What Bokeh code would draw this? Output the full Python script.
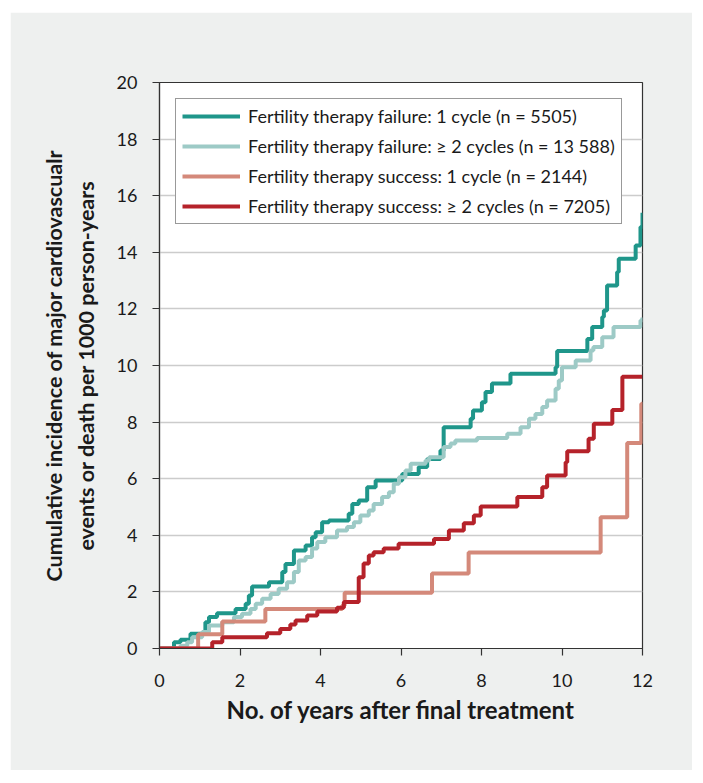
from bokeh.plotting import figure
from bokeh.models import Range1d, Legend, LegendItem, FixedTicker
from bokeh.embed import file_html
from bokeh.resources import INLINE

# ---- data ----
fail1_x = [0, 0.36, 0.52, 0.77, 1.14, 1.23, 1.43, 1.89, 2.14, 2.22, 2.30, 2.72, 3.05, 3.13, 3.34,
           3.63, 3.79, 3.88, 4.04, 4.21, 4.70, 4.79, 4.95, 5.16, 5.37, 6.03, 6.44, 6.65, 6.98, 7.06,
           7.73, 7.79, 8.01, 8.10, 8.26, 8.72, 9.84, 9.88, 10.63, 10.75, 11.00, 11.04, 11.12, 11.37,
           11.41, 11.83, 11.95, 12.0]
fail1_y = [0, 0.22, 0.31, 0.52, 0.93, 1.11, 1.25, 1.40, 1.58, 1.87, 2.19, 2.34, 2.70, 2.99, 3.46,
           3.64, 3.93, 4.11, 4.46, 4.52, 4.76, 5.11, 5.23, 5.70, 5.94, 6.17, 6.41, 6.70, 7.00, 7.82,
           8.12, 8.41, 8.70, 9.06, 9.36, 9.71, 9.94, 10.51, 10.94, 11.36, 11.71, 11.94, 12.83, 13.30,
           13.77, 14.24, 14.89, 15.4]

fail2_x = [0, 0.52, 0.69, 0.81, 1.06, 1.23, 1.56, 1.85, 2.05, 2.26, 2.39, 2.55, 2.76, 2.96, 3.17,
           3.34, 3.46, 3.63, 3.79, 3.92, 4.12, 4.41, 4.66, 4.83, 4.99, 5.20, 5.32, 5.53, 5.70, 5.82,
           5.95, 6.11, 6.24, 6.61, 6.70, 7.06, 7.23, 7.35, 7.89, 8.64, 8.97, 9.18, 9.34, 9.51, 9.63,
           9.84, 9.92, 10.00, 10.34, 10.71, 10.78, 11.00, 11.28, 11.95, 12.0]
fail2_y = [0, 0.10, 0.22, 0.40, 0.58, 0.81, 0.93, 1.11, 1.23, 1.40, 1.58, 1.76, 1.93, 2.11, 2.34,
           2.70, 3.11, 3.23, 3.53, 3.76, 3.93, 4.17, 4.29, 4.46, 4.70, 4.88, 5.11, 5.35, 5.52, 5.82,
           6.05, 6.29, 6.53, 6.64, 6.76, 7.12, 7.24, 7.35, 7.44, 7.59, 7.82, 8.12, 8.29, 8.53, 8.76,
           9.18, 9.47, 9.94, 10.18, 10.53, 10.65, 11.0, 11.36, 11.59, 11.7]

succ1_x = [0, 0.96, 1.56, 2.63, 4.54, 4.60, 6.77, 7.68, 10.96, 11.62, 11.97, 12.0]
succ1_y = [0, 0.50, 0.95, 1.40, 1.52, 1.97, 2.65, 3.39, 4.64, 7.26, 8.65, 8.7]

succ2_x = [0, 1.31, 1.56, 2.67, 3.00, 3.25, 3.38, 3.67, 3.92, 4.41, 4.58, 4.95, 5.07, 5.20, 5.32,
           5.57, 5.94, 6.82, 7.19, 7.56, 7.81, 7.98, 8.89, 9.51, 9.63, 10.09, 10.13, 10.66, 10.79,
           11.25, 11.50, 12.0]
succ2_y = [0, 0.22, 0.40, 0.54, 0.69, 0.85, 0.99, 1.17, 1.31, 1.44, 1.64, 2.52, 3.00, 3.29, 3.40,
           3.53, 3.70, 3.87, 4.17, 4.43, 4.70, 5.02, 5.35, 5.70, 6.11, 6.58, 6.97, 7.41, 7.94,
           8.43, 9.60, 9.6]

series_labels = [
    "Fertility therapy failure: 1 cycle (n = 5505)",
    "Fertility therapy failure: \u2265 2 cycles (n = 13 588)",
    "Fertility therapy success: 1 cycle (n = 2144)",
    "Fertility therapy success: \u2265 2 cycles (n = 7205)",
]
series_colors = ["#1f968a", "#9dcac6", "#d4897a", "#b5222a"]

x_ticks = [0, 2, 4, 6, 8, 10, 12]
y_ticks = [0, 2, 4, 6, 8, 10, 12, 14, 16, 18, 20]

FONT = "Lato"
BG = "#eef0ef"

p = figure(width=682, height=758, output_backend="svg", toolbar_location=None,
           x_range=Range1d(0, 12), y_range=Range1d(0, 20),
           min_border_left=149, min_border_right=50, min_border_top=70, min_border_bottom=122)
p.margin = (12, 0, 0, 10)
p.border_fill_color = BG
p.background_fill_color = "white"
p.outline_line_color = "#333333"
p.outline_line_width = 1.2

p.xgrid.visible = False
p.ygrid.grid_line_color = "#cccccc"
p.ygrid.grid_line_width = 1.5

for ax in (p.xaxis[0], p.yaxis[0]):
    ax.axis_line_color = "#333333"
    ax.axis_line_width = 1.2
    ax.major_tick_line_color = "#333333"
    ax.major_tick_line_width = 1.2
    ax.major_tick_in = 0
    ax.major_tick_out = 7
    ax.minor_tick_line_color = None
    ax.major_label_text_font = FONT
    ax.major_label_text_font_size = "18px"
    ax.major_label_text_color = "#1a1a1a"
    ax.axis_label_text_font = FONT
    ax.axis_label_text_font_style = "bold"
    ax.axis_label_text_color = "#1a1a1a"

p.xaxis[0].axis_label_text_font_size = "24px"
p.yaxis[0].axis_label_text_font_size = "21.5px"
p.xaxis[0].ticker = FixedTicker(ticks=x_ticks)
p.yaxis[0].ticker = FixedTicker(ticks=y_ticks)
p.ygrid.ticker = FixedTicker(ticks=y_ticks)
p.xaxis[0].major_label_standoff = 18
p.yaxis[0].major_label_standoff = 15
p.xaxis[0].axis_label = "No. of years after final treatment"
p.xaxis[0].axis_label_standoff = 5
p.yaxis[0].axis_label = "Cumulative incidence of major cardiovascualr\nevents or death per 1000 person-years"
p.yaxis[0].axis_label_standoff = 15

xs = [fail1_x, fail2_x, succ1_x, succ2_x]
ys = [fail1_y, fail2_y, succ1_y, succ2_y]
renderers = []
for x, y, c in zip(xs, ys, series_colors):
    r = p.step(x, y, mode="after", line_color=c, line_width=4)
    renderers.append(r)

legend = Legend(items=[LegendItem(label=l, renderers=[r]) for l, r in zip(series_labels, renderers)],
                location="top_left")
legend.margin = 16
legend.padding = 6
legend.spacing = 8
legend.label_text_font = FONT
legend.label_text_font_size = "18px"
legend.label_text_color = "#1a1a1a"
legend.label_standoff = 8
legend.glyph_width = 58
legend.glyph_height = 22
legend.label_height = 22
legend.border_line_color = "#333333"
legend.border_line_width = 1.2
legend.background_fill_color = "white"
legend.background_fill_alpha = 1
p.add_layout(legend, "center")

open("out.html", "w").write(file_html(p, INLINE))
